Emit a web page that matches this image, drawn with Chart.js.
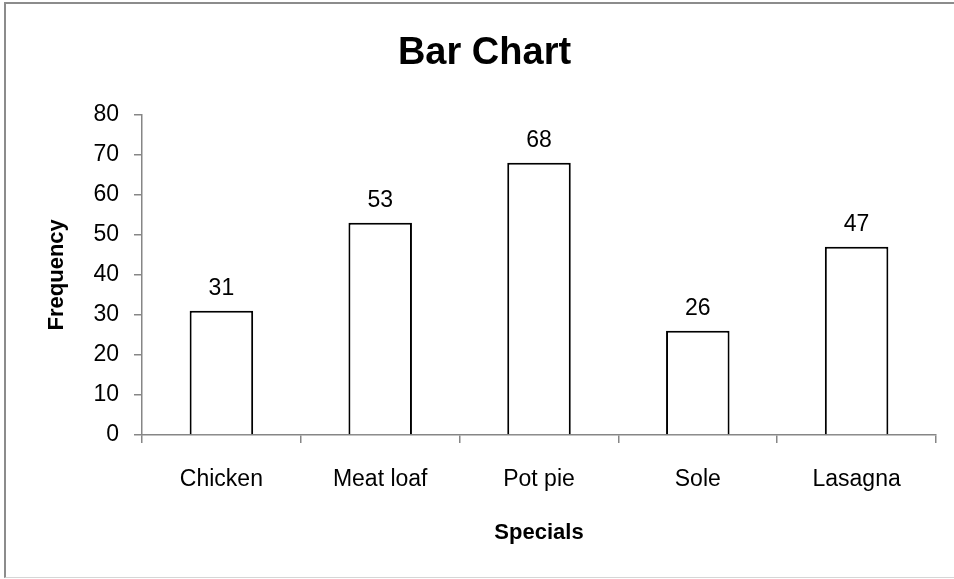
<!DOCTYPE html>
<html>
<head>
<meta charset="utf-8">
<title>Bar Chart</title>
<script src="https://cdn.jsdelivr.net/npm/chart.js@4.4.0/dist/chart.umd.min.js"></script>
<style>
    html, body { margin: 0; padding: 0; background: #fff; }
    #wrap { position: relative; width: 954px; height: 579px; overflow: hidden; }
    #frame {
        position: absolute; left: 4px; top: 2px; width: 960px; height: 573px;
        border-left: 2px solid #8c8c8c; border-top: 2px solid #8c8c8c;
        border-bottom: 1px solid #d6d6d6; pointer-events: none;
    }
</style>
</head>
<body>
<div id="wrap">
    <canvas id="barChart" width="954" height="579"></canvas>
    <div id="frame"></div>
</div>
<script>
// Data
const specials = ['Chicken', 'Meat loaf', 'Pot pie', 'Sole', 'Lasagna'];
const frequency = [31, 53, 68, 26, 47];
const yMin = 0;
const yMax = 80;
const yStep = 10;

const FONT = "'Liberation Sans', Arial, sans-serif";
const AXIS_GRAY = '#868686';

// Draws the value above each bar
const valueLabels = {
    id: 'valueLabels',
    afterDatasetsDraw(chart) {
        const ctx = chart.ctx;
        const meta = chart.getDatasetMeta(0);
        ctx.save();
        ctx.font = '23px ' + FONT;
        ctx.fillStyle = '#000';
        ctx.textAlign = 'center';
        ctx.textBaseline = 'alphabetic';
        meta.data.forEach((bar, i) => {
            ctx.fillText(String(frequency[i]), bar.x, bar.y - 16);
        });
        ctx.restore();
    }
};

const ctx = document.getElementById('barChart');

new Chart(ctx, {
    type: 'bar',
    data: {
        labels: specials,
        datasets: [{
            data: frequency,
            backgroundColor: '#ffffff',
            borderColor: '#000000',
            borderWidth: 2,
            categoryPercentage: 1.0,
            barPercentage: 0.4
        }]
    },
    options: {
        responsive: false,
        animation: false,
        layout: {
            padding: { left: 33, right: 18, top: 10, bottom: 10 }
        },
        plugins: {
            legend: { display: false },
            tooltip: { enabled: false },
            title: {
                display: true,
                text: 'Bar Chart',
                color: '#000',
                font: { family: FONT, size: 38, weight: 'bold' },
                padding: { top: 21, bottom: 38 }
            }
        },
        scales: {
            x: {
                afterFit(scale) { scale.height = 134; },
                grid: {
                    offset: true,
                    drawOnChartArea: false,
                    drawTicks: true,
                    tickLength: 8,
                    color: AXIS_GRAY,
                    lineWidth: 1.5
                },
                border: { display: true, color: AXIS_GRAY, width: 1.5 },
                ticks: {
                    color: '#000',
                    padding: 23,
                    maxRotation: 0,
                    font: { family: FONT, size: 23 }
                },
                title: {
                    display: true,
                    text: 'Specials',
                    color: '#000',
                    font: { family: FONT, size: 22, weight: 'bold' },
                    padding: { top: 0, bottom: 23 }
                }
            },
            y: {
                min: yMin,
                max: yMax,
                afterFit(scale) { scale.width = 109; },
                grid: {
                    drawOnChartArea: false,
                    drawTicks: true,
                    tickLength: 8,
                    color: AXIS_GRAY,
                    lineWidth: 1.5
                },
                border: { display: true, color: AXIS_GRAY, width: 1.5 },
                ticks: {
                    stepSize: yStep,
                    color: '#000',
                    padding: 15,
                    font: { family: FONT, size: 23 }
                },
                title: {
                    display: true,
                    text: 'Frequency',
                    color: '#000',
                    font: { family: FONT, size: 22, weight: 'bold' },
                    padding: { top: 11, bottom: 0 }
                }
            }
        }
    },
    plugins: [valueLabels]
});
</script>
</body>
</html>
